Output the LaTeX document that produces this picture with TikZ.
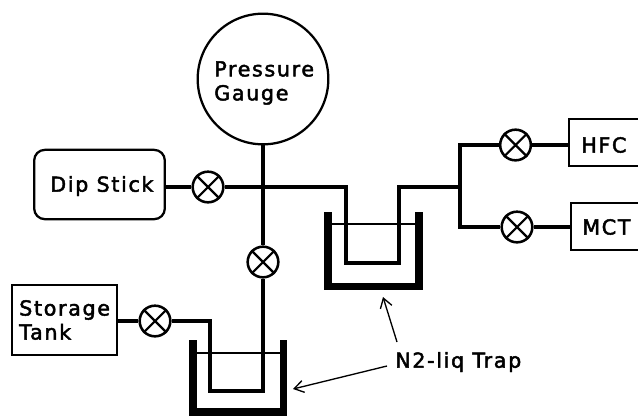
\documentclass[tikz,border=0pt]{standalone}
\usepackage{fontspec}
\setmainfont[LetterSpace=8,FakeBold=2.2]{DejaVu Sans}
\usetikzlibrary{arrows.meta}
\tikzset{
 x=0.75pt,y=-0.75pt,
 pipe/.style={line width=3pt,line join=miter},
 wall/.style={line width=5.5pt,line join=miter},
 liquid/.style={line width=0.9pt},
 outline/.style={draw,line width=1.7pt,inner sep=0pt},
 valve/.style={draw,circle,line width=1.9pt,minimum size=23pt,inner sep=0pt,fill=white},
 lab/.style={font=\fontsize{15.5}{18}\selectfont,align=left,anchor=west,inner sep=0pt},
 pointer/.style={line width=1pt,-{Straight Barb[length=7pt,width=9pt]}},
}
\newcommand{\valvex}[1]{\draw[line width=1.6pt] (#1.north west)--(#1.south east) (#1.north east)--(#1.south west);}
\begin{document}
\begin{tikzpicture}
\useasboundingbox (0,0) rectangle (638,415);
\fill[white] (0,0) rectangle (638,415);
\coordinate (up) at (263,187);
\coordinate (rt) at (460,187);
% traps
\draw[liquid] (193,353)--(284,353);
\draw[liquid] (328,224)--(419,224);
\draw[wall] (193,340)--(193,412)--(283.5,412)--(283.5,340);
\draw[wall] (328,212)--(328,286.5)--(419,286.5)--(419,212);
% equipment
\node[outline,circle,minimum size=98pt] (gauge) at (263,79) {};
\node[lab] (gaugetext) at (214,83) {Pressure\\Gauge};
\node[outline,rounded corners=8pt,minimum width=98pt,minimum height=52pt] (dip) at (99.5,184.5) {};
\node[lab] (diptext) at (50,186) {Dip Stick};
\node[outline,minimum width=79pt,minimum height=52pt] (tank) at (64.5,320) {};
\node[lab] (tanktext) at (19,320) {Storage\\Tank};
\node[outline,minimum width=80pt,minimum height=35pt,anchor=west] (hfc) at (568,142.5) {};
\node[lab] (hfctext) at (581,145) {HFC};
\node[outline,minimum width=80pt,minimum height=35pt,anchor=west] (mct) at (570,226.5) {};
\node[lab] (mcttext) at (582,227) {MCT};
% valves
\node[valve] (v1) at (208,187) {};
\node[valve] (v2) at (263,262) {};
\node[valve] (v3) at (155,321) {};
\node[valve] (v4) at (515.5,145) {};
\node[valve] (v5) at (517,227) {};
% pipes
\draw[pipe] (gauge.south)--(up)--(v2.north);
\draw[pipe] (dip.east|-v1)--(v1.west);
\draw[pipe] (v1.east)--(346,187)--(346,263)--(399,263)--(399,187)--(rt);
\draw[pipe] (tank.east|-v3)--(v3.west);
\draw[pipe] (v3.east)--(210,321)--(210,391)--(263,391)--(v2.south);
\draw[pipe] (v4.west)--(460,145)--(460,227)--(v5.west);
\draw[pipe] (v4.east)--(hfc.west|-v4);
\draw[pipe] (v5.east)--(mct.west|-v5);
\valvex{v1}\valvex{v2}\valvex{v3}\valvex{v4}\valvex{v5}
% labels
\node[lab] (trap) at (395,362) {N2-liq Trap};
\coordinate (t1) at (383,297);
\coordinate (t2) at (293,389);
\coordinate (s1) at (397,342);
\coordinate (s2) at (387,366);
\draw[pointer] (s1)--(t1);
\draw[pointer] (s2)--(t2);
\end{tikzpicture}
\end{document}
